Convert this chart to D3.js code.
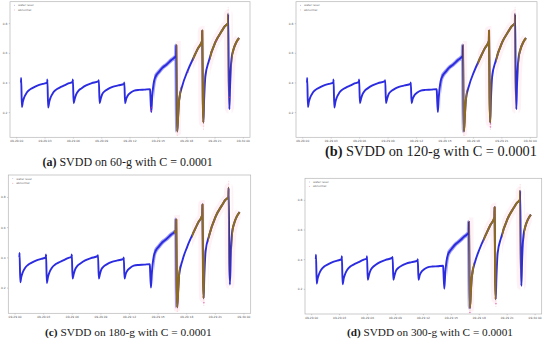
<!DOCTYPE html>
<html><head><meta charset="utf-8">
<script src="https://cdn.jsdelivr.net/npm/d3@7"></script>
<style>body{margin:0;background:#fff}svg{display:block}</style>
</head><body>
<svg id="c" width="550" height="347"></svg>
<script>
// ---------- data ----------
const hourTicks = [0, 3, 6, 9, 12, 15, 18, 21, 24];
const tickLabels = ["09-29 00","09-29 03","09-29 06","09-29 09","09-29 12","09-29 15","09-29 18","09-29 21","09-30 00"];
const yTicks = [0.2, 0.4, 0.6, 0.8];
const yTickLabels = ["0.2", "0.4", "0.6", "0.8"];
const legendLabels = ["water level", "abnormal"];
const panelIds = ["a", "b", "c", "d"];
const windowSizes = ["60-g", "120-g", "180-g", "300-g"];
const cValue = "0.0001";

// water level: [hour, level]
const waterLevel = [
 [0.50,0.40],[0.52,0.43],[0.60,0.235],[0.70,0.27],[0.85,0.30],[1.1,0.33],[1.4,0.35],[1.8,0.365],[2.3,0.38],[2.8,0.39],[3.28,0.40],
 [3.30,0.42],[3.38,0.23],[3.5,0.27],[3.65,0.30],[3.9,0.33],[4.2,0.35],[4.6,0.365],[5.1,0.38],[5.6,0.395],[5.98,0.405],
 [6.0,0.42],[6.08,0.26],[6.2,0.29],[6.35,0.32],[6.6,0.345],[6.9,0.36],[7.4,0.38],[8.0,0.395],[8.73,0.41],
 [8.75,0.415],[8.83,0.26],[8.95,0.29],[9.1,0.32],[9.35,0.34],[9.7,0.355],[10.2,0.37],[10.8,0.38],[11.43,0.39],
 [11.45,0.40],[11.53,0.26],[11.65,0.29],[11.8,0.31],[12.1,0.33],[12.5,0.345],[13.0,0.35],[13.6,0.352],[14.18,0.355],
 [14.2,0.33],[14.3,0.20],[14.4,0.30],[14.6,0.41],[14.85,0.45],[15.1,0.47],[15.5,0.50],[15.9,0.52],[16.4,0.55],[16.93,0.58],
 [16.95,0.65],[17.0,0.25],[17.05,0.07],[17.15,0.18],[17.25,0.28],[17.6,0.38],[18.1,0.47],[18.8,0.57],[19.25,0.63],[19.68,0.68],
 [19.70,0.75],[19.76,0.30],[19.82,0.13],[19.9,0.28],[20.03,0.44],[20.4,0.545],[21.08,0.67],[21.8,0.75],[22.1,0.78],[22.43,0.80],
 [22.45,0.86],[22.52,0.40],[22.58,0.22],[22.66,0.40],[22.8,0.56],[23.0,0.62],[23.3,0.67],[23.6,0.70]
];
// hours where the noisy band of points is wide
const noisyRange = [14.6, 16.93];

// abnormal spans (hours) for each panel
const abnormalA = [[16.95,17.45],[18.7,19.95],[20.5,22.47],[22.8,23.7]];
const abnormalB = [[16.95,17.4],[18.5,19.95],[20.45,22.47],[22.8,23.7]];
const abnormalC = [[16.7,17.35],[18.6,19.95],[20.3,22.47],[22.75,23.7]];
const abnormalD = [[16.95,17.5],[18.5,19.9],[20.5,22.47],[22.85,23.7]];
// isolated abnormal points [hour, level]
const abnormalPtsA = [[14.3,0.21],[14.33,0.23],[18.2,0.47],[21.2,0.68],[22.6,0.30]];
const abnormalPtsB = [[19.85,0.10],[19.85,0.12]];
const abnormalPtsC = [[19.85,0.10]];
const abnormalPtsD = [[17.05,0.04],[19.85,0.10]];
// vertical trails of red points at spikes: [hour, low, high]
const spikeTrails = [[16.95,0.58,0.66],[19.70,0.68,0.76],[22.45,0.80,0.91],[19.84,0.08,0.15],[17.06,0.04,0.08]];

// ---------- layout ----------
const layout = [
 {x0:10,  x1:250,   y0:1.7,   y1:137.3, capX:42.5, capW:170.5, capY:166},
 {x0:296, x1:537,   y0:1.7,   y1:137.3, capX:325,  capW:212,   capY:156},
 {x0:8.3, x1:250.7, y0:175,   y1:313.3, capX:45,   capW:167,   capY:336},
 {x0:305, x1:541.7, y0:178.3, y1:314,   capX:347,  capW:166,   capY:336}
];
const abnormal = [abnormalA, abnormalB, abnormalC, abnormalD];
const abnormalPts = [abnormalPtsA, abnormalPtsB, abnormalPtsC, abnormalPtsD];

const svg = d3.select("#c");
const BLUE = "#2b2be0", BROWN = "#8c6a1f", RED = "#e8203a";

panelIds.forEach((pid, i) => {
  const L = layout[i];
  const g = svg.append("g");
  const x = d3.scaleLinear().domain([-0.66, 24.76]).range([L.x0, L.x1]);
  const y = d3.scaleLinear().domain([0.03, 0.945]).range([L.y1, L.y0]);

  // axes
  const ax = g.append("g").attr("transform", `translate(0,${L.y1})`)
    .call(d3.axisBottom(x).tickValues(hourTicks).tickFormat((d, k) => tickLabels[k]).tickSize(1.2).tickPadding(1.5));
  const ay = g.append("g").attr("transform", `translate(${L.x0},0)`)
    .call(d3.axisLeft(y).tickValues(yTicks).tickFormat((d, k) => yTickLabels[k]).tickSize(1.2).tickPadding(1.5));
  [ax, ay].forEach(a => {
    a.select(".domain").remove();
    a.selectAll("line").attr("stroke", "#777").attr("stroke-width", 0.4);
    a.selectAll("text").attr("font-family", "DejaVu Sans").attr("font-size", 2.9).attr("fill", "#555");
  });

  // frame
  g.append("rect").attr("x", L.x0).attr("y", L.y0).attr("width", L.x1 - L.x0).attr("height", L.y1 - L.y0)
    .attr("fill", "none").attr("stroke", "#b5b5b5").attr("stroke-width", 0.7);

  const line = d3.line().x(d => x(d[0])).y(d => y(d[1])).curve(d3.curveMonotoneX);

  // clip for abnormal spans
  const clipId = "clip" + pid;
  const cp = g.append("clipPath").attr("id", clipId);
  abnormal[i].forEach(r => {
    cp.append("rect").attr("x", x(r[0])).attr("y", L.y0).attr("width", x(r[1]) - x(r[0])).attr("height", L.y1 - L.y0);
  });
  const clipN = "clipN" + pid;
  g.append("clipPath").attr("id", clipN).append("rect")
    .attr("x", x(noisyRange[0])).attr("y", L.y0).attr("width", x(noisyRange[1]) - x(noisyRange[0])).attr("height", L.y1 - L.y0);

  // faint pink haze around abnormal points
  g.append("path").datum(waterLevel).attr("d", line).attr("fill", "none")
    .attr("stroke", "#ffc4d8").attr("stroke-opacity", 0.22).attr("stroke-width", 9)
    .attr("clip-path", `url(#${clipId})`);

  // water level (blue)
  g.append("path").datum(waterLevel).attr("d", line).attr("fill", "none")
    .attr("stroke", BLUE).attr("stroke-width", 1.9).attr("stroke-linejoin", "round");
  g.append("path").datum(waterLevel).attr("d", line).attr("fill", "none")
    .attr("stroke", BLUE).attr("stroke-opacity", 0.45).attr("stroke-width", 4)
    .attr("clip-path", `url(#${clipN})`);

  // abnormal (brown overlay)
  g.append("path").datum(waterLevel).attr("d", line).attr("fill", "none")
    .attr("stroke", BROWN).attr("stroke-width", 2.1).attr("stroke-linejoin", "round")
    .attr("clip-path", `url(#${clipId})`);

  // spike trails
  g.selectAll(".trail").data(spikeTrails).join("line")
    .attr("x1", d => x(d[0])).attr("x2", d => x(d[0]))
    .attr("y1", d => y(d[1])).attr("y2", d => y(d[2]))
    .attr("stroke", RED).attr("stroke-opacity", 0.45).attr("stroke-width", 0.6).attr("stroke-dasharray", "0.6 0.9");

  // isolated abnormal points
  g.selectAll(".pt").data(abnormalPts[i]).join("circle")
    .attr("cx", d => x(d[0])).attr("cy", d => y(d[1])).attr("r", 0.8)
    .attr("fill", "#e0309a").attr("fill-opacity", 0.6);

  // legend
  const lg = g.append("g").attr("font-family", "DejaVu Sans").attr("font-size", 2.8).attr("fill", "#666");
  legendLabels.forEach((t, k) => {
    const ly = L.y0 + 4.5 + k * 4.6;
    lg.append("circle").attr("cx", L.x0 + 4.5).attr("cy", ly - 0.9).attr("r", 0.45)
      .attr("fill", k === 0 ? BLUE : RED).attr("fill-opacity", 0.6);
    lg.append("text").attr("x", L.x0 + 8).attr("y", ly).text(t);
  });

  // caption
  const cap = svg.append("text").attr("x", L.capX).attr("y", L.capY)
    .attr("font-family", "Liberation Serif").attr("font-size", 11).attr("fill", "#1a1a1a");
  cap.append("tspan").attr("font-weight", "bold").text(`(${pid})`);
  cap.append("tspan").text(` SVDD on ${windowSizes[i]} with C = ${cValue}`);
  const w = cap.node().getComputedTextLength();
  cap.attr("font-size", 11 * L.capW / w);
});
</script>
</body></html>
